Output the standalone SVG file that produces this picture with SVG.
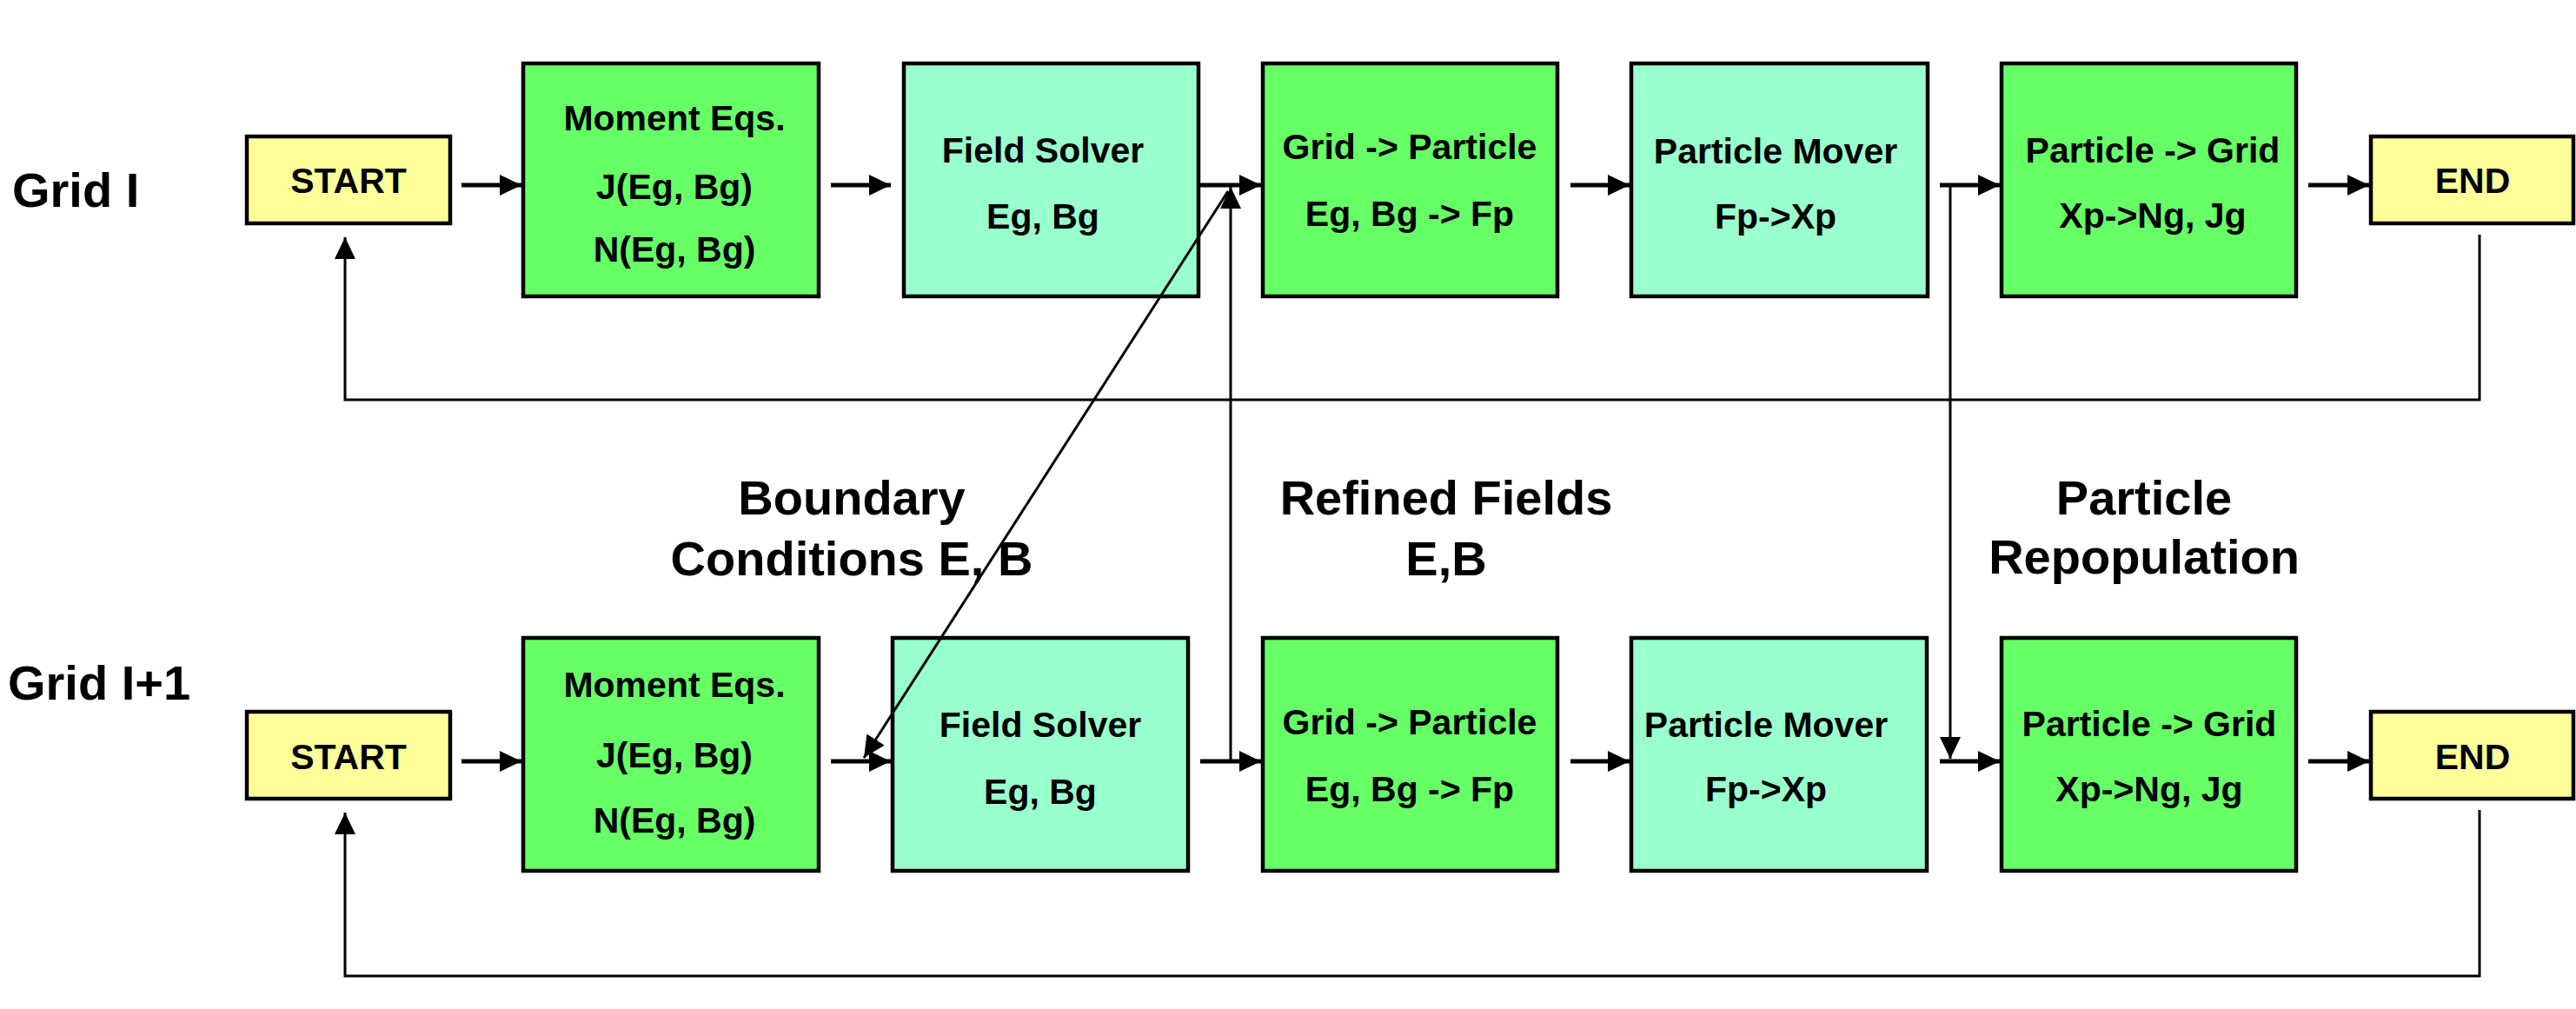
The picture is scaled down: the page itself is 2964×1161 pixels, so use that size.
<svg xmlns="http://www.w3.org/2000/svg" width="2964" height="1161" viewBox="0 0 2964 1161">
<style>
  .box { stroke: #000; stroke-width: 4.5; }
  .yel { fill: #FFFF99; }
  .grn { fill: #66FF66; }
  .teal { fill: #99FFCC; }
  text { font-family: "Liberation Sans", Arial, sans-serif; font-weight: bold; fill: #000; text-anchor: middle; }
  .t { font-size: 41px; }
  .lbl { font-size: 56px; }
  .side { font-size: 56px; text-anchor: start; }
  .flow { stroke: #000; stroke-width: 5; fill: none; }
  .thin { stroke: #000; stroke-width: 3; fill: none; }
</style>
<defs>
  <marker id="ah" markerUnits="userSpaceOnUse" markerWidth="25" markerHeight="24" refX="25" refY="12" orient="auto">
    <path d="M0,0 L25,12 L0,24 z" fill="#000"/>
  </marker>
</defs>
<rect width="2964" height="1161" fill="#fff"/>

<text class="side" x="14" y="238">Grid I</text>
<text class="side" x="9" y="805">Grid I+1</text>

<text class="lbl" x="980" y="592">Boundary</text>
<text class="lbl" x="980" y="662">Conditions E, B</text>
<text class="lbl" x="1664" y="592">Refined Fields</text>
<text class="lbl" x="1664" y="662">E,B</text>
<text class="lbl" x="2467" y="592">Particle</text>
<text class="lbl" x="2467" y="660">Repopulation</text>

<g id="start1"><rect class="box yel" x="284" y="157" width="234" height="100"/><text class="t" x="401" y="222">START</text></g>
<g id="moment1"><rect class="box grn" x="602" y="73" width="340" height="268"/><text class="t" x="776" y="150">Moment Eqs.</text><text class="t" x="776" y="229">J(Eg, Bg)</text><text class="t" x="776" y="301">N(Eg, Bg)</text></g>
<g id="field1"><rect class="box teal" x="1040" y="73" width="339" height="268"/><text class="t" x="1200" y="187">Field Solver</text><text class="t" x="1200" y="263">Eg, Bg</text></g>
<g id="g2p1"><rect class="box grn" x="1453" y="73" width="339" height="268"/><text class="t" x="1622" y="183">Grid -&gt; Particle</text><text class="t" x="1622" y="260">Eg, Bg -&gt; Fp</text></g>
<g id="mover1"><rect class="box teal" x="1877" y="73" width="341" height="268"/><text class="t" x="2043" y="188">Particle Mover</text><text class="t" x="2043" y="263">Fp-&gt;Xp</text></g>
<g id="p2g1"><rect class="box grn" x="2303" y="73" width="339" height="268"/><text class="t" x="2477" y="187">Particle -&gt; Grid</text><text class="t" x="2477" y="262">Xp-&gt;Ng, Jg</text></g>
<g id="end1"><rect class="box yel" x="2728" y="157" width="233" height="100"/><text class="t" x="2845" y="222">END</text></g>

<g id="start2"><rect class="box yel" x="284" y="819" width="234" height="100"/><text class="t" x="401" y="885">START</text></g>
<g id="moment2"><rect class="box grn" x="602" y="734" width="340" height="268"/><text class="t" x="776" y="802">Moment Eqs.</text><text class="t" x="776" y="883">J(Eg, Bg)</text><text class="t" x="776" y="958">N(Eg, Bg)</text></g>
<g id="field2"><rect class="box teal" x="1027" y="734" width="340" height="268"/><text class="t" x="1197" y="848">Field Solver</text><text class="t" x="1197" y="925">Eg, Bg</text></g>
<g id="g2p2"><rect class="box grn" x="1453" y="734" width="339" height="268"/><text class="t" x="1622" y="845">Grid -&gt; Particle</text><text class="t" x="1622" y="922">Eg, Bg -&gt; Fp</text></g>
<g id="mover2"><rect class="box teal" x="1877" y="734" width="340" height="268"/><text class="t" x="2032" y="848">Particle Mover</text><text class="t" x="2032" y="922">Fp-&gt;Xp</text></g>
<g id="p2g2"><rect class="box grn" x="2303" y="734" width="339" height="268"/><text class="t" x="2473" y="847">Particle -&gt; Grid</text><text class="t" x="2473" y="922">Xp-&gt;Ng, Jg</text></g>
<g id="end2"><rect class="box yel" x="2728" y="819" width="233" height="100"/><text class="t" x="2845" y="885">END</text></g>

<g id="connectors">
  <line class="flow" x1="531" y1="213" x2="600" y2="213" marker-end="url(#ah)"/>
  <line class="flow" x1="956" y1="213" x2="1025" y2="213" marker-end="url(#ah)"/>
  <line class="flow" x1="1381" y1="213" x2="1451" y2="213" marker-end="url(#ah)"/>
  <line class="flow" x1="1807" y1="213" x2="1875" y2="213" marker-end="url(#ah)"/>
  <line class="flow" x1="2232" y1="213" x2="2301" y2="213" marker-end="url(#ah)"/>
  <line class="flow" x1="2656" y1="213" x2="2726" y2="213" marker-end="url(#ah)"/>

  <line class="flow" x1="531" y1="876" x2="600" y2="876" marker-end="url(#ah)"/>
  <line class="flow" x1="956" y1="876" x2="1025" y2="876" marker-end="url(#ah)"/>
  <line class="flow" x1="1381" y1="876" x2="1451" y2="876" marker-end="url(#ah)"/>
  <line class="flow" x1="1807" y1="876" x2="1875" y2="876" marker-end="url(#ah)"/>
  <line class="flow" x1="2232" y1="876" x2="2301" y2="876" marker-end="url(#ah)"/>
  <line class="flow" x1="2656" y1="876" x2="2726" y2="876" marker-end="url(#ah)"/>

  <polyline class="thin" points="2853,270 2853,460 397,460 397,273" marker-end="url(#ah)"/>
  <polyline class="thin" points="2853,932 2853,1123 397,1123 397,935" marker-end="url(#ah)"/>

  <line class="thin" x1="1416" y1="876" x2="1416" y2="215" marker-end="url(#ah)"/>
  <line class="thin" x1="2244" y1="213" x2="2244" y2="873" marker-end="url(#ah)"/>
  <line class="thin" x1="1413" y1="220" x2="994" y2="872" marker-end="url(#ah)"/>
</g>
</svg>
